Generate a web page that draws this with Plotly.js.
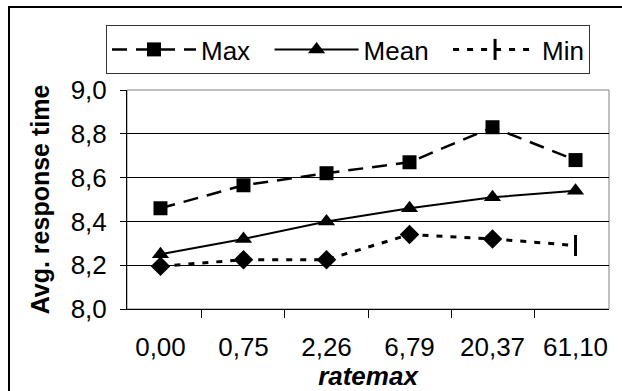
<!DOCTYPE html>
<html>
<head>
<meta charset="utf-8">
<script src="https://cdn.plot.ly/plotly-3.0.1.min.js"></script>
<style>
  html, body { margin: 0; padding: 0; background: #fff; }
  #wrap { position: relative; width: 622px; height: 391px; overflow: hidden; }
  #frame { position: absolute; left: 8px; top: 6px; width: 700px; height: 500px;
           border-left: 2px solid #000; border-top: 2px solid #000; pointer-events: none; z-index: 5; }
  #chart { position: absolute; left: 0; top: 0; width: 622px; height: 391px; }
</style>
</head>
<body>
<div id="wrap">
  <div id="chart"></div>
  <div id="frame"></div>
</div>
<script>
const categories = ['0,00', '0,75', '2,26', '6,79', '20,37', '61,10'];
const maxVals  = [8.46, 8.565, 8.62, 8.67, 8.83, 8.68];
const meanVals = [8.25, 8.32, 8.40, 8.46, 8.51, 8.54];
const minVals  = [8.195, 8.225, 8.225, 8.34, 8.32, 8.29];
const seriesNames = ['Max', 'Mean', 'Min'];
const yTicks = [8.0, 8.2, 8.4, 8.6, 8.8, 9.0];

const nbsp = '\u00a0';
const lastIdx = categories.length - 1;

const traces = [
  {
    x: categories, y: maxVals, name: seriesNames[0] + nbsp + nbsp, type: 'scatter', mode: 'lines+markers',
    line: { color: '#000', width: 2.5, dash: '15px,9px' },
    marker: { symbol: 'square', size: 14, color: '#000' }
  },
  {
    x: categories, y: meanVals, name: seriesNames[1] + nbsp + nbsp, type: 'scatter', mode: 'lines+markers',
    line: { color: '#000', width: 2 },
    marker: { symbol: 'triangle-up', size: 15, color: '#000' }
  },
  {
    x: categories, y: minVals, name: seriesNames[2], type: 'scatter', mode: 'lines',
    showlegend: false,
    line: { color: '#000', width: 3, dash: '6px,8px' }
  },
  {
    x: categories.slice(0, lastIdx), y: minVals.slice(0, lastIdx), name: seriesNames[2], type: 'scatter', mode: 'markers',
    showlegend: false,
    marker: { symbol: 'diamond', size: 15, color: '#000', line: { width: 0 } }
  },
  {
    x: categories.slice(lastIdx), y: minVals.slice(lastIdx), name: seriesNames[2], type: 'scatter', mode: 'markers',
    showlegend: false,
    marker: { symbol: 'line-ns', size: 15, color: '#000', line: { color: '#000', width: 3 } }
  },
  {
    x: [categories[0]], y: [null], name: seriesNames[2], type: 'scatter', mode: 'lines+markers',
    line: { color: '#000', width: 3, dash: '6px,8px' },
    marker: { symbol: 'line-ns', size: 15, color: '#000', line: { color: '#000', width: 3 } }
  }
];

const layout = {
  width: 622, height: 391,
  margin: { l: 127, r: 13, t: 90, b: 82, autoexpand: false },
  paper_bgcolor: '#fff', plot_bgcolor: '#fff',
  separators: ', ',
  font: { family: "'Liberation Sans', Arial, sans-serif", size: 24, color: '#000' },
  showlegend: true,
  legend: {
    orientation: 'h', xref: 'container', yref: 'container',
    x: 106 / 622, y: 1 - 25 / 391, xanchor: 'left', yanchor: 'top',
    bordercolor: '#333', borderwidth: 1, bgcolor: '#fff',
    font: { size: 26, color: '#000' },
    itemwidth: 84, traceorder: 'normal'
  },
  xaxis: {
    type: 'category', tickson: 'boundaries', ticks: 'outside', ticklen: 8, tickcolor: '#000', tickwidth: 1,
    showline: true, linecolor: '#000', linewidth: 1, showgrid: false, zeroline: false,
    ticklabelstandoff: 15,
    tickfont: { size: 26 },
    title: { text: '<b><i>ratemax</i></b>', font: { size: 26 }, standoff: 0 }
  },
  yaxis: {
    range: [8.0, 9.0], tickvals: yTicks, tickformat: '.1f',
    ticks: 'outside', ticklen: 6, tickcolor: '#000', tickwidth: 1,
    showline: true, linecolor: '#000', linewidth: 1,
    showgrid: true, gridcolor: '#000', gridwidth: 1, zeroline: false,
    ticklabelstandoff: 8,
    tickfont: { size: 26 },
    title: { text: '<b>Avg. response time</b>', font: { size: 25 }, standoff: 13 }
  },
  shapes: [
    { type: 'rect', xref: 'paper', yref: 'paper', x0: 0, x1: 1, y0: 0, y1: 1,
      line: { color: '#808080', width: 1 }, layer: 'below' }
  ]
};

Plotly.newPlot('chart', traces, layout, { staticPlot: true, displayModeBar: false });
</script>
</body>
</html>
